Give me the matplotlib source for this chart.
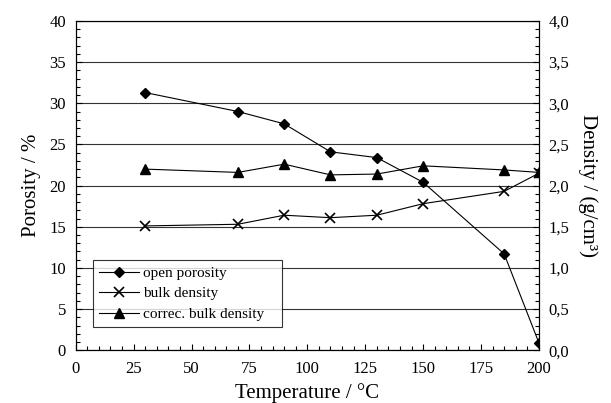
import numpy as np
import matplotlib
matplotlib.use("Agg")
import matplotlib.pyplot as plt
from matplotlib.ticker import MultipleLocator, FuncFormatter

# temperatures / deg C
temperature = [30, 70, 90, 110, 130, 150, 185, 200]
# open porosity / %
open_porosity = [31.3, 29.0, 27.5, 24.1, 23.4, 20.4, 11.7, 0.9]
# densities / (g/cm3), right axis
bulk_density = [1.51, 1.53, 1.64, 1.61, 1.64, 1.78, 1.93, 2.15]
correc_bulk_density = [2.20, 2.16, 2.26, 2.13, 2.14, 2.24, 2.19, 2.16]

plt.rcParams['font.family'] = ['Liberation Serif', 'DejaVu Serif']

fig = plt.figure(figsize=(6.11, 4.03), dpi=100)
ax = fig.add_axes([0.124, 0.131, 0.758, 0.817])
ax2 = ax.twinx()

# horizontal grid lines every 5 %
ax.yaxis.grid(True, color='#333333', linewidth=0.8)
ax.set_axisbelow(True)

l1, = ax.plot(temperature, open_porosity, color='black', lw=0.8,
              marker='D', ms=5, mfc='black', mec='black', label='open porosity')
l2, = ax2.plot(temperature, bulk_density, color='black', lw=0.8,
               marker='x', ms=7, mew=1.2, label='bulk density')
l3, = ax2.plot(temperature, correc_bulk_density, color='black', lw=0.8,
               marker='^', ms=7, mfc='black', mec='black', label='correc. bulk density')

ax.set_xlim(0, 200)
ax.set_ylim(0, 40)
ax2.set_ylim(0, 4.0)

ax.xaxis.set_major_locator(MultipleLocator(25))
ax.xaxis.set_minor_locator(MultipleLocator(5))
ax.yaxis.set_major_locator(MultipleLocator(5))
ax.yaxis.set_minor_locator(MultipleLocator(1))
ax2.yaxis.set_major_locator(MultipleLocator(0.5))
ax2.yaxis.set_minor_locator(MultipleLocator(0.1))
ax2.yaxis.set_major_formatter(FuncFormatter(lambda v, p: f'{v:.1f}'.replace('.', ',')))

ax.tick_params(axis='both', which='both', direction='in', labelsize=12, width=0.8)
ax.tick_params(axis='both', which='major', length=4)
ax.tick_params(axis='both', which='minor', length=3)
ax.tick_params(axis='x', pad=8)
ax.tick_params(axis='y', pad=7)
ax2.tick_params(axis='y', which='both', direction='in', labelsize=12, width=0.8, pad=7)
ax2.tick_params(axis='y', which='major', length=4)
ax2.tick_params(axis='y', which='minor', length=3)

for a in (ax, ax2):
    for s in a.spines.values():
        s.set_linewidth(0.8)

ax.set_xlabel('Temperature / °C', fontsize=15, labelpad=4)
ax.set_ylabel('Porosity / %', fontsize=15, labelpad=6)
ax2.set_ylabel('Density / (g/cm³)', fontsize=15, rotation=270, labelpad=20)

leg = ax.legend(handles=[l1, l2, l3], loc='lower left',
                bbox_to_anchor=(0.037, 0.07, 0.408, 0.228), mode='expand',
                fontsize=11, frameon=True, fancybox=False, handlelength=2.6,
                handletextpad=0.3, borderaxespad=0, labelspacing=0.45)
leg.get_frame().set_edgecolor('black')
leg.get_frame().set_linewidth(0.8)
leg.set_zorder(5)

fig.savefig('out.png', dpi=100)
